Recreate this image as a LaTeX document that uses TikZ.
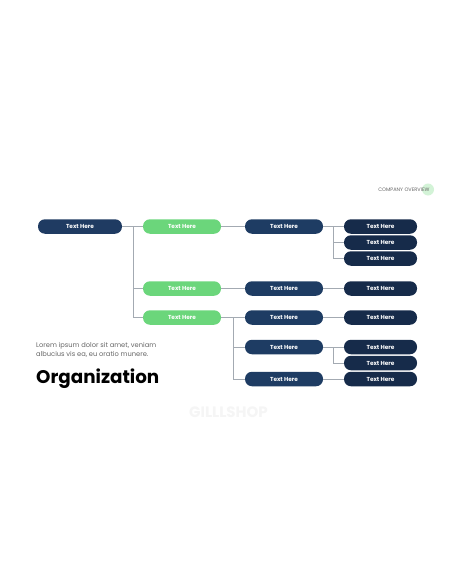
\documentclass[tikz,border=0pt]{standalone}
\usepackage{fontspec}
\setmainfont{Poppins}
\definecolor{rootblue}{HTML}{1F3B62}
\definecolor{leafgreen}{HTML}{6BD67B}
\definecolor{midblue}{HTML}{1E3C63}
\definecolor{navy}{HTML}{162B4A}
\definecolor{linegray}{HTML}{A3AAB2}
\tikzset{
  box/.style={rectangle, rounded corners=7pt, minimum height=14.5pt, inner sep=0pt,
    text=white, font=\fontsize{5.8}{7}\selectfont\bfseries},
  rootbox/.style={box, fill=rootblue, minimum width=84pt},
  greenbox/.style={box, fill=leafgreen, minimum width=78pt},
  midbox/.style={box, fill=midblue, minimum width=78pt},
  leafbox/.style={box, fill=navy, minimum width=73pt},
  link/.style={draw=linegray, line width=0.7pt}
}
\begin{document}
\begin{tikzpicture}[x=1pt,y=-1pt]
  \useasboundingbox[fill=white] (0,0) rectangle (456,586);
  % header tag
  \fill[leafgreen!30] (428,189.5) circle (6);
  \node[text=black!60, font=\fontsize{5}{6}\selectfont, anchor=east] (tag) at (433,189.5) {COMPANY OVERVIEW};
  % boxes
  \node[rootbox] (root) at (80,226.5) {Text Here};
  \node[greenbox] (g1) at (182,226.5) {Text Here};
  \node[greenbox] (g2) at (182,288.5) {Text Here};
  \node[greenbox] (g3) at (182,317.5) {Text Here};
  \node[midbox] (m1) at (284,226.5) {Text Here};
  \node[midbox] (m2) at (284,288.5) {Text Here};
  \node[midbox] (m3) at (284,317.5) {Text Here};
  \node[midbox] (m4) at (284,347) {Text Here};
  \node[midbox] (m5) at (284,379) {Text Here};
  \node[leafbox] (l1) at (380.5,226.5) {Text Here};
  \node[leafbox] (l2) at (380.5,242.5) {Text Here};
  \node[leafbox] (l3) at (380.5,258.5) {Text Here};
  \node[leafbox] (l4) at (380.5,288.5) {Text Here};
  \node[leafbox] (l5) at (380.5,317.5) {Text Here};
  \node[leafbox] (l6) at (380.5,347) {Text Here};
  \node[leafbox] (l7) at (380.5,363) {Text Here};
  \node[leafbox] (l8) at (380.5,379) {Text Here};
  % connectors
  \coordinate (j1) at (133,226.5);
  \coordinate (j2) at (233,317.5);
  \coordinate (j3) at (333,226.5);
  \coordinate (j4) at (333,347);
  \draw[link] (root.east) -- (g1.west);
  \draw[link] (j1) |- (g2.west);
  \draw[link] (j1) |- (g3.west);
  \draw[link] (g1.east) -- (m1.west);
  \draw[link] (g2.east) -- (m2.west);
  \draw[link] (g3.east) -- (m3.west);
  \draw[link] (j2) |- (m4.west);
  \draw[link] (j2) |- (m5.west);
  \draw[link] (m1.east) -- (l1.west);
  \draw[link] (j3) |- (l2.west);
  \draw[link] (j3) |- (l3.west);
  \draw[link] (m2.east) -- (l4.west);
  \draw[link] (m3.east) -- (l5.west);
  \draw[link] (m4.east) -- (l6.west);
  \draw[link] (j4) |- (l7.west);
  \draw[link] (m5.east) -- (l8.west);
  % text block
  \node[anchor=north west, align=left, text=black!60, inner sep=0pt,
    font=\fontsize{6.7}{8.3}\selectfont] (lorem) at (36,342.5)
    {Lorem ipsum dolor sit amet, veniam\\albucius vis ea, eu oratio munere.};
  \node[anchor=west, inner sep=0pt, font=\fontsize{18.3}{22}\selectfont\bfseries] (title) at (36,379) {Organization};
  \node[text=black!4, font=\fontsize{15}{17}\selectfont\bfseries] (mark) at (228.5,412) {GILLLSHOP};
\end{tikzpicture}
\end{document}
